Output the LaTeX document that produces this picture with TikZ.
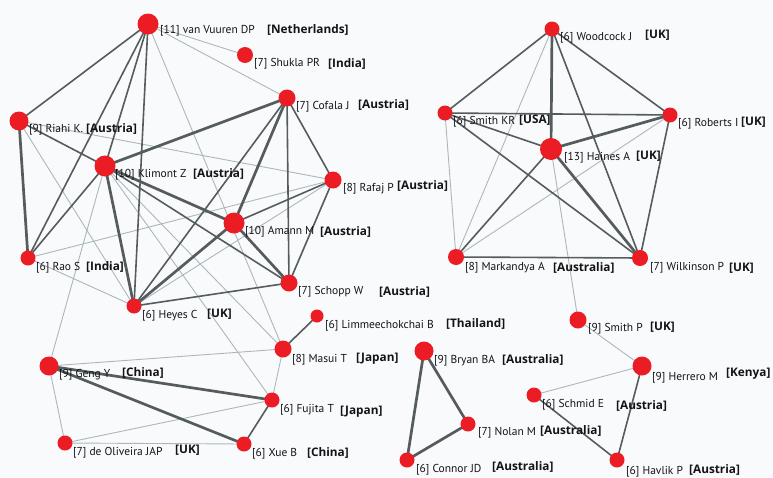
\documentclass[tikz,border=0pt]{standalone}
\usepackage{fontspec}
\setmainfont{Open Sans}
\newfontfamily\regfont{PT Sans}
\definecolor{bgcol}{RGB}{249,250,252}
\definecolor{nodered}{RGB}{236,28,36}
\definecolor{darkedge}{RGB}{84,92,94}
\definecolor{lightedge}{RGB}{170,184,190}
\definecolor{txt}{RGB}{20,20,20}
\pgfdeclarelayer{back}
\pgfsetlayers{back,main}
\newcommand\pers[7]{%
  \node[dot=#3] (#1) at (#2) {};
  \node[reglab] (#1r) at (#5) {#4};
  \node[boldlab] (#1b) at (#7) {#6};}
\begin{document}
\begin{tikzpicture}[x=1pt,y=-1pt,
  thickE/.style={draw=darkedge, line width=2.7pt},
  medE/.style={draw=darkedge, line width=1.6pt},
  thinE/.style={draw=lightedge, line width=0.9pt},
  dot/.style={circle, fill=nodered, draw=none, inner sep=0pt, minimum size=#1},
  reglab/.style={anchor=west, inner sep=0pt, text=txt, font=\regfont\fontsize{11.5}{13}\selectfont},
  boldlab/.style={anchor=west, inner sep=0pt, text=txt, font=\fontsize{11.8}{14}\selectfont\bfseries}]
\useasboundingbox (0,0) rectangle (773,477);
% people
\pers{vv}{148,24}{21pt}{[11] van Vuuren DP}{160,31}{[Netherlands]}{267,30}
\pers{sh}{245,55}{16pt}{[7] Shukla PR}{254,64}{[India]}{328,64}
\pers{co}{287,98}{17pt}{[7] Cofala J}{296,107}{[Austria]}{358,105}
\pers{ri}{19,121}{19pt}{[9] Riahi K.}{29,130}{[Austria]}{86,129}
\pers{kl}{105,166}{21pt}{[10] Klimont Z}{115,175}{[Austria]}{193,174}
\pers{ra}{333,180}{17pt}{[8] Rafaj P}{343,189}{[Austria]}{397,186}
\pers{am}{234,223}{21pt}{[10] Amann M}{245,232}{[Austria]}{320,232}
\pers{rao}{28,258}{15pt}{[6] Rao S}{36,268}{[India]}{86,267}
\pers{sc}{289,283}{17pt}{[7] Schopp W}{298,292}{[Austria]}{379,292}
\pers{he}{134,306}{15pt}{[6] Heyes C}{142,316}{[UK]}{207,314}
\pers{li}{317,316}{13pt}{[6] Limmeechokchai B}{325,326}{[Thailand]}{446,324}
\pers{ma}{283,349}{17pt}{[8] Masui T}{292,360}{[Japan]}{356,359}
\pers{ge}{49,366}{19pt}{[9] Geng Y}{59,375}{[China]}{122,373}
\pers{fu}{272,400}{15pt}{[6] Fujita T}{280,410}{[Japan]}{340,412}
\pers{dol}{65,443}{15pt}{[7] de Oliveira JAP}{73,453}{[UK]}{175,450}
\pers{xu}{244,444}{15pt}{[6] Xue B}{252,454}{[China]}{307,453}
\pers{wo}{552,29}{15pt}{[6] Woodcock J}{560,38}{[UK]}{645,35}
\pers{sk}{445,113}{15pt}{[6] Smith KR}{453,122}{[USA]}{519,120}
\pers{ro}{670,115}{15pt}{[6] Roberts I}{678,124}{[UK]}{741,122}
\pers{ha}{551,149}{22pt}{[13] Haines A}{564,158}{[UK]}{636,156}
\pers{mk}{456,257}{16pt}{[8] Markandya A}{465,268}{[Australia]}{553,268}
\pers{wi}{640,258}{16pt}{[7] Wilkinson P}{650,268}{[UK]}{729,268}
\pers{sp}{578,320}{17pt}{[9] Smith P}{588,329}{[UK]}{650,327}
\pers{br}{424,351}{19pt}{[9] Bryan BA}{434,361}{[Australia]}{502,360}
\pers{hr}{642,366}{19pt}{[9] Herrero M}{652,378}{[Kenya]}{726,374}
\pers{sm}{534,395}{15pt}{[6] Schmid E}{542,405}{[Austria]}{616,406}
\pers{no}{468,424}{15pt}{[7] Nolan M}{478,433}{[Australia]}{540,431}
\pers{cn}{407,460}{15pt}{[6] Connor JD}{416,470}{[Australia]}{492,467}
\pers{hv}{617,460}{15pt}{[6] Havlik P}{626,472}{[Austria]}{689,470}
\begin{pgfonlayer}{back}
  \fill[bgcol] (0,0) rectangle (773,477);
  \foreach \a/\b in {vv/sh, vv/co, vv/ma, ri/he, ri/ra, kl/ge, kl/fu, kl/ma,
      ra/he, ra/rao, rao/he, ge/ma, ge/dol, dol/fu, dol/xu, fu/ma,
      wo/mk, sk/mk, ro/mk, ha/sp, sp/hr, hr/sm}
    \draw[thinE] (\a.center) -- (\b.center);
  \foreach \a/\b in {vv/ri, vv/rao, vv/kl, vv/he, ri/kl, kl/sc, kl/rao,
      co/he, co/sc, co/ra, ra/am, ra/sc, sc/he, fu/xu, ma/li,
      wo/sk, wo/ro, wo/wi, sk/ro, sk/ha, sk/wi, ro/wi, ha/mk, mk/wi,
      hr/hv, sm/hv}
    \draw[medE] (\a.center) -- (\b.center);
  \foreach \a/\b in {ri/rao, kl/co, kl/am, kl/he, co/am, am/sc, am/he,
      ge/fu, ge/xu, wo/ha, ro/ha, ha/wi, br/no, br/cn, no/cn}
    \draw[thickE] (\a.center) -- (\b.center);
\end{pgfonlayer}
\end{tikzpicture}
\end{document}
